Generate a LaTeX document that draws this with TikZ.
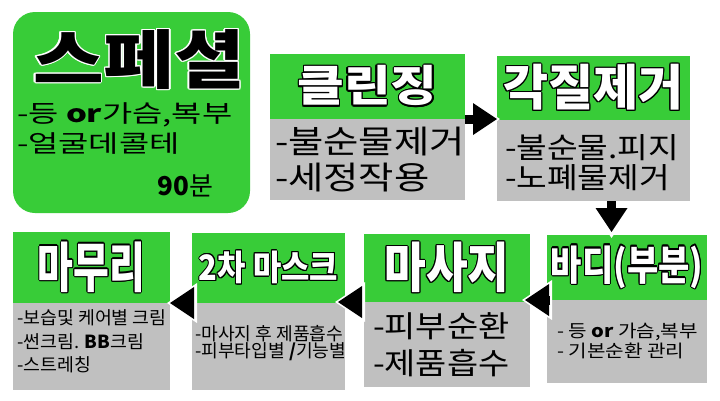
\documentclass[tikz,border=0pt]{standalone}
\usepackage{fontspec}
\setmainfont{Noto Sans CJK KR}
\usepackage{graphicx}
\usepackage{contour}
\contournumber{12}
\usetikzlibrary{arrows.meta,calc}
\definecolor{grn}{RGB}{56,204,56}
\definecolor{gry}{RGB}{192,192,192}
\newcommand{\SX}[2]{\scalebox{#1}[1]{#2}}
\newcommand{\Hd}[3]{\fontsize{#1}{#1}\selectfont\bfseries\contourlength{1.2pt}\SX{#2}{\contour{black}{#3}}}
\tikzset{
  hbox/.style={fill=grn, draw=none, inner sep=0pt, outer sep=0pt, anchor=north west, text=white},
  bbox/.style={fill=gry, draw=none, inner sep=0pt, outer sep=0pt, anchor=north west},
  txt/.style={inner sep=0pt, outer sep=0pt, align=left, text=black},
  fatarrow/.style={draw=black, line width=9pt,
    -{Triangle[length=24pt 0 0,width=32pt 0 0,line width=0pt]},
    preaction={draw=white, line width=14pt, shorten >=-3pt,
      -{Triangle[length=30pt 0 0,width=40pt 0 0,line width=0pt]}}}
}
\begin{document}
\begin{tikzpicture}[x=1pt,y=-1pt]
\useasboundingbox (0,0) rectangle (720,400);
\fill[white] (0,0) rectangle (720,400);

% special box
\node[fill=grn, rounded corners=22pt, inner sep=0pt, outer sep=0pt, anchor=north west,
  minimum width=237pt, minimum height=201pt] (special) at (13,12) {};
\node[inner sep=0pt, text=black] (sptitle) at (139,60)
  {\fontsize{64}{64}\selectfont\bfseries\contourlength{1.2pt}\SX{1.2}{\contour{white}{스페셜}}};
\node[txt, anchor=north west, font=\fontsize{24}{30}\selectfont] (sptext) at (17,103)
  {\SX{1.37}{-등 \textbf{or}가슴,복부}\\\SX{1.37}{-얼굴데콜테}};
\node[txt, anchor=north east, font=\fontsize{26}{26}\selectfont] (sptime) at (213,175) {\textbf{90}분};

% top row
\node[hbox, minimum width=195pt, minimum height=65pt] (cleanh) at (270,54) {\Hd{43}{1.18}{클린징}};
\node[bbox, minimum width=195pt, minimum height=81pt] (cleanb) at (cleanh.south west) {};
\node[txt, anchor=north west, font=\fontsize{32}{36}\selectfont] (cleant) at (275,127)
  {\SX{1.2}{-불순물제거}\\\SX{1.2}{-세정작용}};

\node[hbox, minimum width=193pt, minimum height=64pt] (peelh) at (497,56) {\Hd{49}{1.0}{각질제거}};
\node[bbox, minimum width=193pt, minimum height=81pt] (peelb) at (peelh.south west) {};
\node[txt, anchor=north west, font=\fontsize{29}{30}\selectfont] (peelt) at (505,135)
  {\SX{1.15}{-불순물.피지}\\\SX{1.15}{-노폐물제거}};

% bottom row
\node[hbox, minimum width=157pt, minimum height=71pt] (finh) at (13,232) {\Hd{54}{0.72}{마무리}};
\node[bbox, minimum width=157pt, minimum height=87pt] (finb) at (finh.south west) {};
\node[txt, anchor=north west, font=\fontsize{18}{23.5}\selectfont] (fint) at (17,310)
  {\SX{1.02}{-보습및 케어별 크림}\\\SX{1.02}{-썬크림. \textbf{BB}크림}\\\SX{1.02}{-스트레칭}};

\node[hbox, minimum width=153pt, minimum height=70pt] (maskh) at (192,233) {\Hd{35}{0.88}{2차 마스크}};
\node[bbox, minimum width=153pt, minimum height=87pt] (maskb) at (maskh.south west) {};
\node[txt, anchor=north west, font=\fontsize{18}{17.5}\selectfont] (maskt) at (195,325)
  {\SX{1.01}{-마사지 후 제품흡수}\\\SX{1.01}{-피부타입별 \textbf{/}기능별}};

\node[hbox, minimum width=166pt, minimum height=68pt] (massh) at (364,234) {\Hd{54}{0.84}{마사지}};
\node[bbox, minimum width=166pt, minimum height=85pt] (massb) at (massh.south west) {};
\node[txt, anchor=north west, font=\fontsize{30}{37}\selectfont] (masst) at (373,313)
  {\SX{1.13}{-피부순환}\\\SX{1.13}{-제품흡수}};

\node[hbox, minimum width=160pt, minimum height=65pt] (bodyh) at (547,235) {\Hd{41}{0.83}{바디(부분)}};
\node[bbox, minimum width=160pt, minimum height=83pt] (bodyb) at (bodyh.south west) {};
\node[txt, anchor=north west, font=\fontsize{17.5}{20}\selectfont] (bodyt) at (557,323)
  {\SX{1.15}{- 등 \textbf{or} 가슴,복부}\\\SX{1.15}{- 기본순환 관리}};

% arrows
\draw[fatarrow] (cleanh.south east) -- (cleanh.south east -| peelh.west);
\coordinate (dtop) at ($(peelb.south)+(18,0)$);
\draw[fatarrow, shorten >=3pt] (dtop) -- (dtop |- bodyh.north);
\draw[fatarrow] ($(bodyh.south west)+(3,0)$) -- ($(massh.east |- bodyh.south)+(-5,0)$);
\draw[fatarrow] ($(massh.south west)+(-2,0)$) -- ($(maskh.east |- massh.south)+(-7,0)$);
\draw[fatarrow] ($(maskh.south west)+(1,0)$) -- (finh.east |- maskh.south);
\end{tikzpicture}
\end{document}
